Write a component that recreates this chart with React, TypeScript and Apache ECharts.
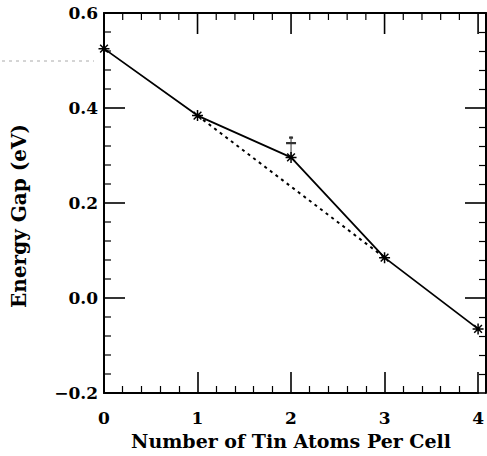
import React, { useEffect, useRef } from "react";
import * as echarts from "echarts";

const tinAtoms = [0, 1, 2, 3, 4];
const energyGap = [0.525, 0.384, 0.296, 0.085, -0.065];
const linearX = [1, 3];
const linearGap = [0.384, 0.085];
const extraX = [2];
const extraGap = [0.326];

const xMajorTicks = [0, 1, 2, 3, 4];
const xMinorTicks = [0.2, 0.4, 0.6, 0.8, 1.2, 1.4, 1.6, 1.8, 2.2, 2.4, 2.6, 2.8, 3.2, 3.4, 3.6, 3.8];
const yMajorTicks = [-0.2, 0, 0.2, 0.4, 0.6];
const yMinorTicks = [-0.16, -0.12, -0.08, -0.04, 0.04, 0.08, 0.12, 0.16, 0.24, 0.28, 0.32, 0.36, 0.44, 0.48, 0.52, 0.56];

const xTitle = "Number of Tin Atoms Per Cell";
const yTitle = "Energy Gap (eV)";

const FONT = "DejaVu Serif";
const X_MIN = 0, X_MAX = 4, X_STEP = 1;
const Y_MIN = -0.2, Y_MAX = 0.6, Y_STEP = 0.2;

const star = "path://M0 5 L10 5 M5 0 L5 10 M1.5 1.5 L8.5 8.5 M8.5 1.5 L1.5 8.5";
const dagger = "path://M5 0 L5 22 M3 1.5 L7 1.5 M0 7 L10 7";

const GRID = { left: 104, right: 1, top: 13, bottom: 63, containLabel: false };

const parts = (ticks: boolean) => ({
  axisLine: { show: true, onZero: false, lineStyle: { color: "#000", width: 2 } },
  axisTick: { show: ticks, inside: true, length: 21, lineStyle: { color: "#000", width: 1.6 } },
  minorTick: { show: ticks, splitNumber: 5, length: 7, lineStyle: { color: "#000", width: 1.2 } },
  splitLine: { show: false },
});
const xBase = (gridIndex: number) => ({ type: "value", gridIndex, min: X_MIN, max: X_MAX, interval: X_STEP });
const yBase = (gridIndex: number) => ({ type: "value", gridIndex, min: Y_MIN, max: Y_MAX, interval: Y_STEP });
const hidden = { show: false };

// side 0 = top axis (value on x), side 1 = left axis (value on y); kind 1 = major, 0 = minor
const tickData = [
  ...xMajorTicks.map((v) => [v, 0, 1]),
  ...xMinorTicks.map((v) => [v, 0, 0]),
  ...yMajorTicks.map((v) => [v, 1, 1]),
  ...yMinorTicks.map((v) => [v, 1, 0]),
];

export default function App() {
  const ref = useRef<HTMLDivElement>(null);
  useEffect(() => {
    if (!ref.current) return;
    const chart = echarts.init(ref.current, undefined, { renderer: "svg" });
    const label = { color: "#000", fontFamily: FONT, fontWeight: "bold", fontSize: 17 };
    chart.setOption({
      animation: false,
      backgroundColor: "#fff",
      grid: [0, 1, 2, 3].map(() => ({ ...GRID })),
      xAxis: [
        {
          ...xBase(0), position: "bottom", ...parts(true),
          axisLabel: { ...label, margin: 16 },
          name: xTitle, nameLocation: "middle", nameGap: 38,
          nameTextStyle: { color: "#000", fontFamily: FONT, fontWeight: "bold", fontSize: 19 },
        },
        { ...xBase(1), position: "top", ...parts(false), axisLabel: { show: false } },
        { ...xBase(2), ...hidden },
        { ...xBase(3), ...hidden },
      ],
      yAxis: [
        { ...yBase(0), ...hidden },
        { ...yBase(1), ...hidden },
        {
          ...yBase(2), position: "left", ...parts(false),
          axisLabel: { ...label, margin: 6, formatter: (v: number) => v.toFixed(1).replace("-", "\u2212") },
          name: yTitle, nameLocation: "middle", nameGap: 75,
          nameTextStyle: { color: "#000", fontFamily: FONT, fontWeight: "bold", fontSize: 20, padding: [0, 26, 0, 0] },
        },
        { ...yBase(3), position: "right", ...parts(true), axisLabel: { show: false } },
      ],
      graphic: [
        {
          type: "line", shape: { x1: 2, y1: 61, x2: 94, y2: 61 },
          style: { stroke: "#aaa", lineWidth: 1, lineDash: [3, 4] },
        },
      ],
      series: [
        {
          type: "custom", name: "ticks", xAxisIndex: 0, yAxisIndex: 0,
          data: tickData, clip: false, silent: true, z: 5,
          renderItem: (_params: any, api: any) => {
            const v = api.value(0);
            const side = api.value(1);
            const major = api.value(2) === 1;
            const len = major ? 21 : 7;
            const style = { stroke: "#000", lineWidth: major ? 1.6 : 1.2 };
            if (side === 0) {
              const p = api.coord([v, Y_MAX]);
              return { type: "line", shape: { x1: p[0], y1: p[1], x2: p[0], y2: p[1] + len }, style };
            }
            const p = api.coord([X_MIN, v]);
            return { type: "line", shape: { x1: p[0], y1: p[1], x2: p[0] + len, y2: p[1] }, style };
          },
        },
        {
          type: "line", name: "calculated", xAxisIndex: 0, yAxisIndex: 0,
          data: tinAtoms.map((x, i) => [x, energyGap[i]]),
          symbol: star, symbolSize: 11,
          itemStyle: { color: "none", borderColor: "#000", borderWidth: 1.5 },
          lineStyle: { color: "#000", width: 1.8 },
          clip: false, z: 3,
        },
        {
          type: "line", name: "linear", xAxisIndex: 0, yAxisIndex: 0,
          data: linearX.map((x, i) => [x, linearGap[i]]),
          showSymbol: false, symbol: "none",
          lineStyle: { color: "#000", width: 2, type: [3, 4] },
          z: 2,
        },
        {
          type: "scatter", name: "extra", xAxisIndex: 0, yAxisIndex: 0,
          data: extraX.map((x, i) => [x, extraGap[i]]),
          symbol: dagger, symbolSize: [10, 22], symbolOffset: [0, 4],
          itemStyle: { color: "none", borderColor: "#000", borderWidth: 1.5 },
          z: 4,
        },
      ],
    });
    return () => chart.dispose();
  }, []);
  return <div ref={ref} style={{ width: 487, height: 456, position: "absolute", left: 0, top: 0 }} />;
}
